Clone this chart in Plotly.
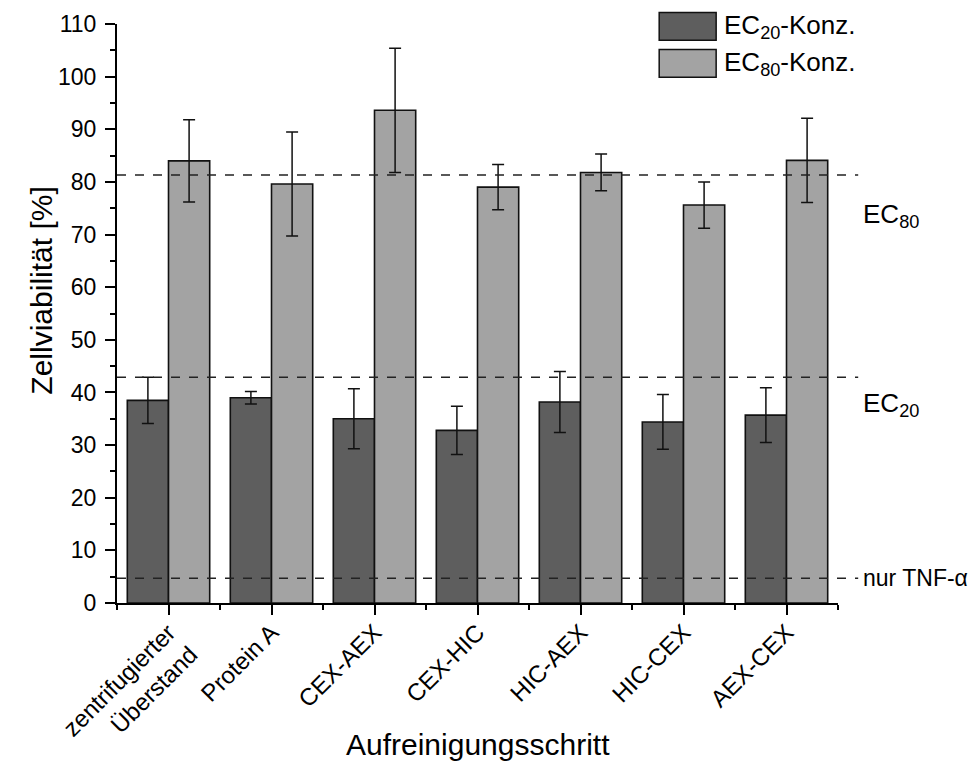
import plotly.graph_objects as go

# Purification steps (x categories)
steps = ["zentrifugierter<br>Überstand", "Protein A", "CEX-AEX", "CEX-HIC",
         "HIC-AEX", "HIC-CEX", "AEX-CEX"]

# Cell viability [%] at EC20 / EC80 concentration, mean and standard deviation
ec20_mean = [38.5, 39.0, 35.0, 32.8, 38.2, 34.4, 35.7]
ec20_sd = [4.4, 1.2, 5.7, 4.6, 5.8, 5.2, 5.2]
ec80_mean = [84.0, 79.6, 93.6, 79.0, 81.8, 75.6, 84.1]
ec80_sd = [7.8, 9.9, 11.8, 4.3, 3.5, 4.4, 8.0]

# Reference levels (dashed lines)
ref_levels = [81.3, 42.9, 4.7]
ref_labels = ["EC<sub>80</sub>", "EC<sub>20</sub>", "nur TNF-α"]
ref_label_y = [73.6, 37.8, 4.7]
ref_label_size = [26, 26, 23]

legend_names = ["EC<sub>20</sub>-Konz.", "EC<sub>80</sub>-Konz."]
colors = ["#5e5e5e", "#a3a3a3"]

FONT = "Liberation Sans, Arial, sans-serif"
xpos = list(range(len(steps)))

fig = go.Figure()
for name, mean, sd, col in zip(legend_names, [ec20_mean, ec80_mean],
                               [ec20_sd, ec80_sd], colors):
    fig.add_trace(go.Bar(
        x=xpos, y=mean, name=name, showlegend=False,
        marker=dict(color=col, line=dict(color="#111111", width=1.6)),
        error_y=dict(type="data", array=sd, visible=True,
                     color="#111111", thickness=1.5, width=6),
    ))

# Dashed reference lines, running slightly past the plot's right edge
for lvl in ref_levels:
    fig.add_shape(type="line", xref="paper", yref="y", x0=0, x1=1.028,
                  y0=lvl, y1=lvl, line=dict(color="#222222", width=1.5, dash="dash"),
                  layer="above")

for txt, yv, sz in zip(ref_labels, ref_label_y, ref_label_size):
    fig.add_annotation(xref="paper", yref="y", x=1.032, y=yv, text=txt,
                       showarrow=False, xanchor="left", yanchor="middle",
                       font=dict(family=FONT, size=sz, color="black"))

# Legend: swatches with labels in the top-right corner
legend_boxes = [(1.020, 0.972), (0.956, 0.908)]
for (ytop, ybot), col, name in zip(legend_boxes, colors, legend_names):
    fig.add_shape(type="rect", xref="paper", yref="paper",
                  x0=0.752, x1=0.831, y0=ybot, y1=ytop,
                  fillcolor=col, line=dict(color="#111111", width=1.5))
    fig.add_annotation(xref="paper", yref="paper", x=0.839, y=(ytop + ybot) / 2,
                       text=name, showarrow=False, xanchor="left", yanchor="middle",
                       font=dict(family=FONT, size=26, color="black"))

# Axis titles placed as annotations for exact positioning
fig.add_annotation(xref="paper", yref="paper", x=0.5, y=-0.245,
                   text="Aufreinigungsschritt", showarrow=False,
                   xanchor="center", yanchor="middle",
                   font=dict(family=FONT, size=30, color="black"))
fig.add_annotation(xref="paper", yref="paper", x=-0.105, y=0.54,
                   text="Zellviabilität [%]", showarrow=False, textangle=-90,
                   xanchor="center", yanchor="middle",
                   font=dict(family=FONT, size=30, color="black"))

fig.update_layout(
    width=971, height=761,
    margin=dict(l=117, r=133, t=24, b=158),
    paper_bgcolor="white", plot_bgcolor="white",
    barmode="group", bargap=0.2, bargroupgap=0,
    font=dict(family=FONT, color="black"),
)

fig.update_xaxes(
    range=[-0.5, 6.5], tickmode="array", tickvals=xpos, ticktext=steps,
    tickangle=-45, tickfont=dict(size=24), automargin=False, ticklabelstandoff=-6,
    showline=True, linecolor="black", linewidth=2,
    ticks="outside", ticklen=10, tickwidth=2, tickcolor="black",
    minor=dict(tickmode="array", tickvals=[i - 0.5 for i in range(len(steps) + 1)],
               ticks="outside", ticklen=5, tickwidth=2, tickcolor="black"),
    showgrid=False, zeroline=False,
)

fig.update_yaxes(
    range=[0, 110], dtick=10, tick0=0, tickfont=dict(size=23), automargin=False,
    ticklabelstandoff=4,
    showline=True, linecolor="black", linewidth=2,
    ticks="outside", ticklen=10, tickwidth=2, tickcolor="black",
    minor=dict(dtick=5, ticks="outside", ticklen=5, tickwidth=2, tickcolor="black"),
    showgrid=False, zeroline=False,
)

fig.write_html("out.html")
